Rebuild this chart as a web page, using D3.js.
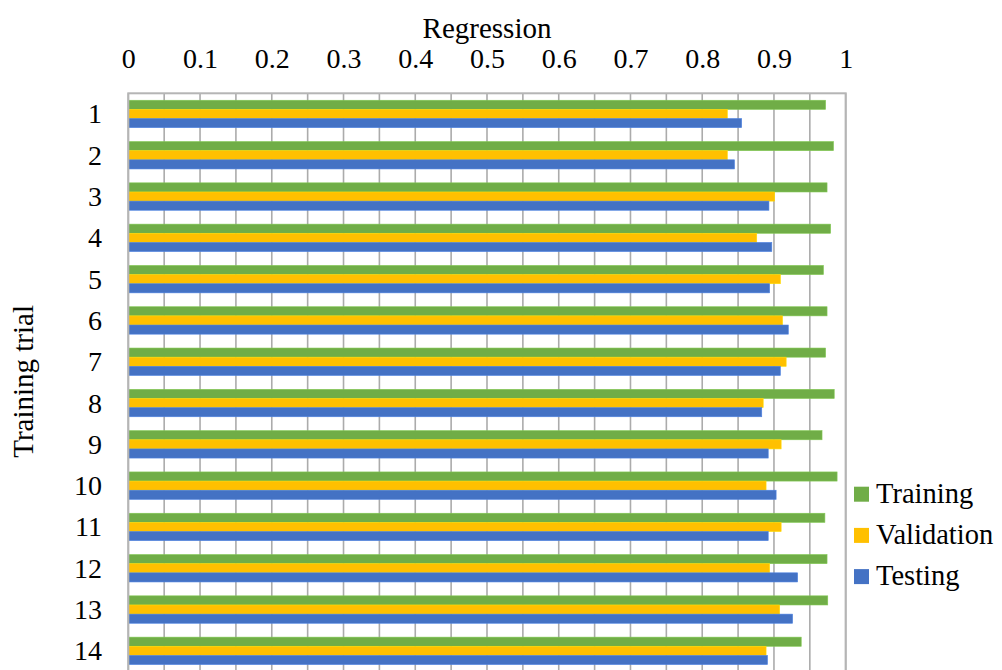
<!DOCTYPE html>
<html>
<head>
<meta charset="utf-8">
<script src="https://cdn.jsdelivr.net/npm/d3@7"></script>
<style>
  html, body { margin: 0; padding: 0; background: #ffffff; }
  svg { display: block; }
</style>
</head>
<body>
<svg id="chart" width="1002" height="670"></svg>
<script>
// Regression coefficient per training trial
const trials = ["1","2","3","4","5","6","7","8","9","10","11","12","13","14"];
const training   = [0.972, 0.983, 0.974, 0.979, 0.969, 0.974, 0.972, 0.984, 0.967, 0.988, 0.971, 0.974, 0.975, 0.938];
const validation = [0.835, 0.835, 0.901, 0.876, 0.909, 0.912, 0.917, 0.885, 0.910, 0.889, 0.910, 0.894, 0.908, 0.889];
const testing    = [0.855, 0.845, 0.893, 0.897, 0.894, 0.920, 0.909, 0.883, 0.892, 0.903, 0.892, 0.933, 0.926, 0.891];
const seriesNames = ["Training", "Validation", "Testing"];
const seriesColors = ["#70AD47", "#FFC000", "#4472C4"];
const xTicks = [0, 0.1, 0.2, 0.3, 0.4, 0.5, 0.6, 0.7, 0.8, 0.9, 1];
const xGrid = d3.range(0, 21).map(i => i * 0.05);

const seriesValues = [training, validation, testing];
const rows = trials.map((t, i) => ({
  trial: t,
  values: seriesNames.map((s, k) => ({ series: s, value: seriesValues[k][i] }))
}));

const FONT = "Liberation Serif";
const svg = d3.select("#chart").attr("font-family", FONT);
const plotLeft = 128.3, plotRight = 845.7, plotTop = 93.3;
const band = 41.3;
const plotBottom = plotTop + band * trials.length;

const x = d3.scaleLinear().domain([0, 1]).range([plotLeft, plotRight]);
const y = d3.scaleBand().domain(trials).range([plotTop, plotBottom]).paddingInner(0.336).paddingOuter(0.168);
const ySub = d3.scaleBand().domain(seriesNames).range([0, y.bandwidth()]);
const color = d3.scaleOrdinal().domain(seriesNames).range(seriesColors);

// vertical gridlines every 0.05
svg.append("g").selectAll("line").data(xGrid).join("line")
  .attr("x1", d => x(d)).attr("x2", d => x(d))
  .attr("y1", plotTop).attr("y2", plotBottom)
  .attr("stroke", "#ababab").attr("stroke-width", 1.6);

// bars
const groups = svg.append("g").selectAll("g").data(rows).join("g")
  .attr("transform", d => `translate(0,${y(d.trial)})`);
groups.selectAll("rect").data(d => d.values).join("rect")
  .attr("x", x(0))
  .attr("y", d => ySub(d.series))
  .attr("width", d => x(d.value) - x(0))
  .attr("height", ySub.bandwidth())
  .attr("fill", d => color(d.series))
  .attr("stroke", d => d3.color(color(d.series)).brighter(0.4))
  .attr("stroke-width", 0.6);

// plot border
svg.append("rect")
  .attr("x", plotLeft).attr("y", plotTop)
  .attr("width", plotRight - plotLeft).attr("height", plotBottom - plotTop)
  .attr("fill", "none").attr("stroke", "#b5b5b5").attr("stroke-width", 2);

// top value axis
const xAxis = d3.axisTop(x).tickValues(xTicks).tickFormat(d3.format("~g")).tickSize(0).tickPadding(0);
const gx = svg.append("g").attr("transform", `translate(0,${68.3})`).call(xAxis);
gx.attr("font-family", FONT).attr("font-size", 28);
gx.select(".domain").remove();
gx.selectAll("text").attr("fill", "#000").attr("dy", 0);

// category axis
const yAxis = d3.axisLeft(y).tickSize(0).tickPadding(0);
const gy = svg.append("g").attr("transform", `translate(${102},0)`).call(yAxis);
gy.attr("font-family", FONT).attr("font-size", 28);
gy.select(".domain").remove();
gy.selectAll("text").attr("fill", "#000").attr("dy", "0.34em");

// axis titles
svg.append("text")
  .attr("x", (plotLeft + plotRight) / 2).attr("y", 37.5)
  .attr("text-anchor", "middle").attr("font-family", FONT).attr("font-size", 29).attr("fill", "#000")
  .text("Regression");
svg.append("text")
  .attr("transform", `translate(33,${(plotTop + plotBottom) / 2 - 1}) rotate(-90)`)
  .attr("text-anchor", "middle").attr("font-family", FONT).attr("font-size", 29).attr("fill", "#000")
  .text("Training trial");

// legend
const legend = svg.append("g").selectAll("g").data(seriesNames).join("g")
  .attr("transform", (d, i) => `translate(854,${486.7 + i * 41.2})`);
legend.append("rect")
  .attr("width", 15).attr("height", 15)
  .attr("fill", d => color(d));
legend.append("text")
  .attr("x", 22).attr("y", 16)
  .attr("font-family", FONT).attr("font-size", 28.5).attr("fill", "#000")
  .text(d => d);
</script>
</body>
</html>
